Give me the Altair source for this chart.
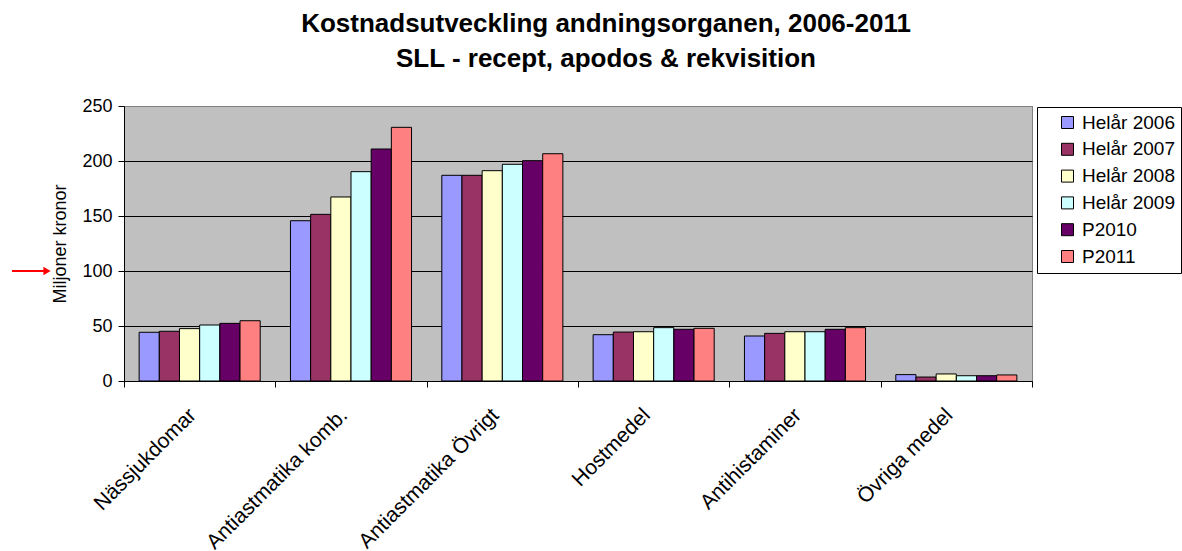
import altair as alt
import pandas as pd

# Cost development for respiratory drugs, SLL (million SEK)
categories = [
    "Nässjukdomar",
    "Antiastmatika komb.",
    "Antiastmatika Övrigt",
    "Hostmedel",
    "Antihistaminer",
    "Övriga medel",
]
series = ["Helår 2006", "Helår 2007", "Helår 2008", "Helår 2009", "P2010", "P2011"]
colors = ["#9999FF", "#993366", "#FFFFCC", "#CCFFFF", "#660066", "#FF8080"]

values = {
    "Helår 2006": [44.3, 145.7, 187.0, 42.1, 40.9, 5.8],
    "Helår 2007": [45.2, 151.5, 187.0, 44.5, 43.3, 3.6],
    "Helår 2008": [47.6, 167.3, 191.2, 44.8, 44.8, 6.4],
    "Helår 2009": [50.9, 190.3, 197.0, 48.5, 44.8, 4.8],
    "P2010": [52.4, 210.9, 200.3, 47.0, 47.0, 4.8],
    "P2011": [54.8, 230.6, 206.6, 47.9, 48.5, 5.5],
}
y_ticks = [0, 50, 100, 150, 200, 250]
marked_level = [100]

rows = [
    {"kategori": c, "serie": s, "varde": v}
    for s in series
    for c, v in zip(categories, values[s])
]
df = pd.DataFrame(rows)

FONT = "Liberation Sans"

y_enc = alt.Y(
    "varde:Q",
    scale=alt.Scale(domain=[0, 250], nice=False),
    axis=alt.Axis(
        title="Miljoner kronor",
        titleFontSize=18,
        titleFontWeight="normal",
        titleColor="black",
        titlePadding=12,
        values=y_ticks,
        labelFontSize=18,
        labelColor="black",
        labelPadding=6,
        tickSize=6,
        tickColor="black",
        domainColor="black",
        gridColor=alt.condition("datum.value == 250", alt.value("#808080"), alt.value("black")),
        gridOpacity=1,
    ),
)

bars = (
    alt.Chart(df)
    .mark_bar(stroke="black", strokeWidth=1)
    .encode(
        x=alt.X(
            "kategori:N",
            sort=categories,
            scale=alt.Scale(paddingInner=0, paddingOuter=0),
            axis=alt.Axis(
                title=None,
                labelAngle=-45,
                labelFontSize=21,
                labelColor="black",
                labelPadding=17,
                labelOffset=-15,
                labelLimit=0,
                tickBand="extent",
                tickSize=6,
                tickColor="black",
                domainColor="black",
                grid=False,
            ),
        ),
        xOffset=alt.XOffset(
            "serie:N", sort=series, scale=alt.Scale(paddingInner=0, paddingOuter=0.75)
        ),
        y=y_enc,
        color=alt.Color(
            "serie:N",
            sort=series,
            scale=alt.Scale(domain=series, range=colors),
            legend=alt.Legend(
                title=None,
                orient="none",
                legendX=913,
                legendY=1,
                symbolType="square",
                symbolSize=144,
                symbolStrokeColor="black",
                symbolStrokeWidth=1,
                symbolOpacity=1,
                symbolOffset=15,
                labelFontSize=19,
                labelColor="black",
                labelOffset=5,
                rowPadding=6.8,
                padding=6,
                strokeColor="black",
                fillColor="white",
            ),
        ),
    )
)

# red pointer at the 100 level, left of the axis
arrow_df = pd.DataFrame({"varde": marked_level})
arrow_line = (
    alt.Chart(arrow_df)
    .mark_rule(color="red", strokeWidth=2)
    .encode(x=alt.value(-112), x2=alt.value(-80), y="varde:Q")
)
arrow_head = (
    alt.Chart(arrow_df)
    .mark_point(shape="triangle-right", filled=True, color="red", size=70, opacity=1)
    .encode(x=alt.value(-77), y="varde:Q")
)

chart = (
    alt.layer(bars, arrow_line, arrow_head)
    .properties(
        width=908,
        height=275,
        autosize=alt.AutoSizeParams(type="none"),
        padding={"left": 124, "top": 106, "right": 150, "bottom": 170},
        title=alt.TitleParams(
            text=[
                "Kostnadsutveckling andningsorganen, 2006-2011",
                "SLL - recept, apodos & rekvisition",
            ],
            fontSize=26,
            fontWeight="bold",
            font=FONT,
            color="black",
            anchor="middle",
            lineHeight=35,
            offset=25,
            dx=28,
        ),
    )
    .configure(font=FONT, background="white")
    .configure_view(fill="#C0C0C0", stroke="#808080", strokeWidth=1)
)

chart.save("out.html", embed_options={"renderer": "svg", "actions": False})
